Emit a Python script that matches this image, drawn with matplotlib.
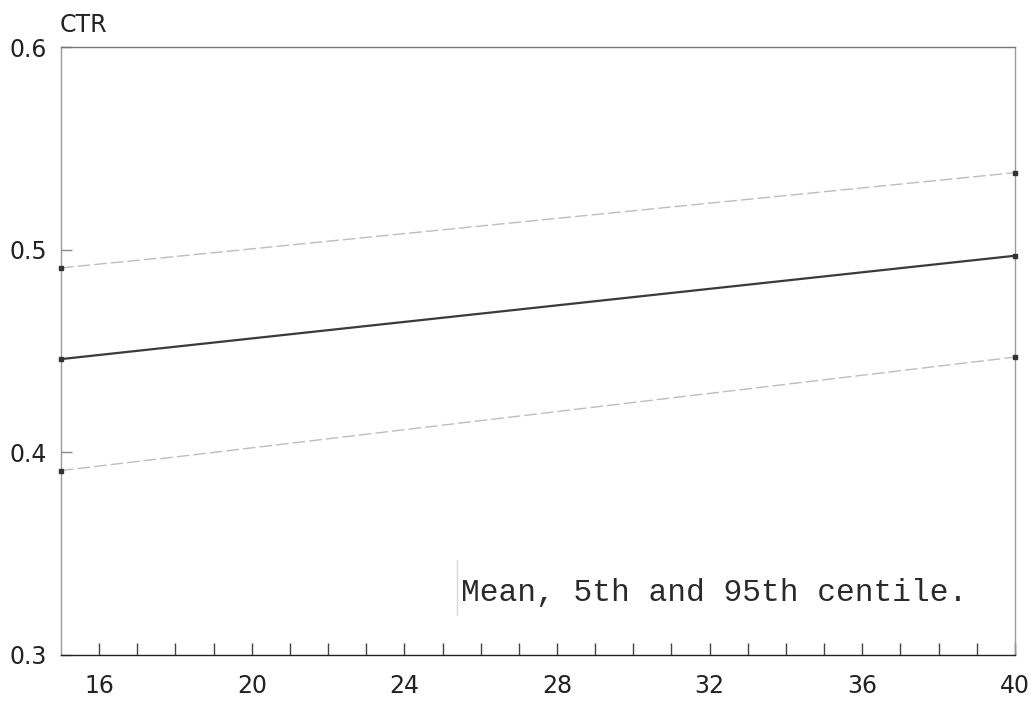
import matplotlib.pyplot as plt

# gestational age (weeks) at the ends of the fitted lines
weeks = [15, 40]
mean_ctr = [0.446, 0.497]
p5_ctr = [0.391, 0.447]
p95_ctr = [0.491, 0.538]

x_labels = [16, 20, 24, 28, 32, 36, 40]
y_labels = [0.3, 0.4, 0.5, 0.6]

fig = plt.figure(figsize=(10.34, 7.02), dpi=100)
ax = fig.add_axes([0.059, 0.067, 0.9225, 0.866])

# centile lines (faint) and mean line
ax.plot(weeks, p95_ctr, color='#bdbdbd', lw=1, ls=(0, (9, 3)), zorder=2)
ax.plot(weeks, p5_ctr, color='#bdbdbd', lw=1, ls=(0, (9, 3)), zorder=2)
ax.plot(weeks, mean_ctr, color='#3a3a3a', lw=1.6, zorder=3)
for s in (p95_ctr, mean_ctr, p5_ctr):
    ax.plot(weeks, s, ls='none', marker='s', ms=3.5, color='#333333',
            clip_on=False, zorder=4)

ax.set_xlim(15, 40)
ax.set_ylim(0.3, 0.6)

ax.set_xticks(x_labels)
ax.set_xticklabels([str(v) for v in x_labels])
ax.set_xticks(range(16, 40), minor=True)
ax.set_yticks(y_labels)
ax.set_yticklabels([f'{v:.1f}' for v in y_labels])

ax.tick_params(axis='x', which='both', direction='in', length=9, width=1,
               color='#444444', pad=14, labelsize=17, labelcolor='#222222',
               top=False)
ax.tick_params(axis='y', direction='in', length=8, width=1,
               color='#888888', pad=10, labelsize=17, labelcolor='#222222',
               right=False)

for side, c in [('left', '#999999'), ('top', '#777777'),
                ('right', '#999999'), ('bottom', '#222222')]:
    ax.spines[side].set_color(c)
    ax.spines[side].set_linewidth(1)

fig.text(0.058, 0.955, 'CTR', fontsize=17, color='#222222',
         ha='left', va='baseline')

ax.text(0.419, 0.088, 'Mean, 5th and 95th centile.', transform=ax.transAxes,
        family='Liberation Mono', fontsize=22.5, color='#2a2a2a',
        ha='left', va='baseline')
ax.plot([0.415, 0.415], [0.066, 0.156], transform=ax.transAxes,
        color='#d8d8d8', lw=1)

fig.savefig('out.png', dpi=100, facecolor='white')
